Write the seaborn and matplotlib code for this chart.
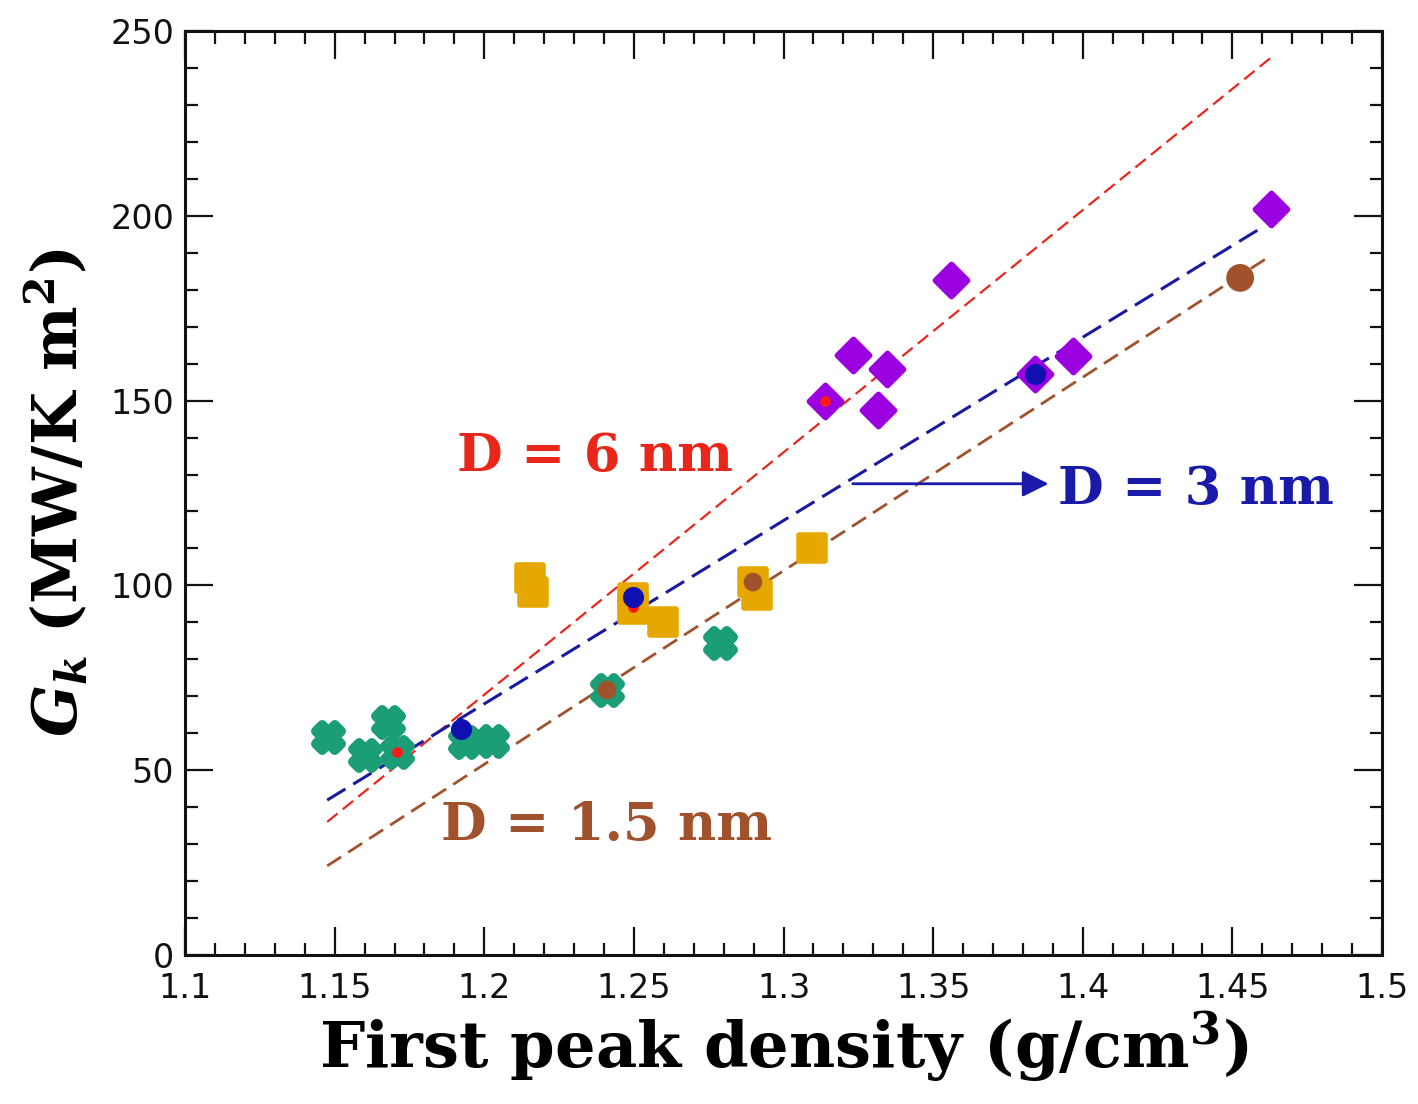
import seaborn as sns
import pandas as pd
import numpy as np
from matplotlib import pyplot as plt
from matplotlib.ticker import MultipleLocator

# data
green_x = [1.1478, 1.1602, 1.1678, 1.1708, 1.1935, 1.2026, 1.2410, 1.2788]
green_y = [59.0, 54.1, 63.0, 54.9, 57.5, 57.9, 71.7, 84.4]

orange_x = [1.2153, 1.2163, 1.2497, 1.2497, 1.2597, 1.2898, 1.2910, 1.3095]
orange_y = [102.0, 98.2, 96.5, 93.5, 90.1, 100.9, 97.4, 110.1]

purple_x = [1.3139, 1.3232, 1.3346, 1.3316, 1.3560, 1.3840, 1.3967, 1.4629]
purple_y = [149.9, 162.3, 158.5, 147.5, 182.6, 157.2, 162.1, 201.8]

# representative points for each diameter
d6_x = [1.1708, 1.2497, 1.3139]
d6_y = [54.9, 94.2, 149.9]
d3_x = [1.1922, 1.2497, 1.3840]
d3_y = [61.1, 96.9, 157.2]
d15_x = [1.2410, 1.2898, 1.4526]
d15_y = [71.7, 100.9, 183.2]

# fitted lines (end points)
fit6_x, fit6_y = [1.1475, 1.4632], [36.0, 243.0]
fit3_x, fit3_y = [1.1475, 1.4602], [41.9, 197.0]
fit15_x, fit15_y = [1.1475, 1.4626], [24.1, 189.1]

sns.set_theme(style="ticks")
plt.rcParams['font.family'] = ['DejaVu Sans']
plt.rcParams['mathtext.fontset'] = 'custom'
plt.rcParams['mathtext.it'] = 'DejaVu Serif:italic:bold'
plt.rcParams['mathtext.rm'] = 'DejaVu Serif:bold'
plt.rcParams['mathtext.bf'] = 'DejaVu Serif:bold'

fig = plt.figure(figsize=(14.18, 11.04), dpi=100)
ax = fig.add_axes([0.1305, 0.135, 0.8441, 0.8369])

RED = '#e8261a'
NAVY = '#1a1a9e'
BROWN = '#a0522d'

sns.lineplot(x=fit6_x, y=fit6_y, ax=ax, color=RED, lw=1.6, zorder=2)
sns.lineplot(x=fit3_x, y=fit3_y, ax=ax, color=NAVY, lw=2.2, zorder=2)
sns.lineplot(x=fit15_x, y=fit15_y, ax=ax, color=BROWN, lw=2.0, zorder=2)
for ln, dsh in zip(ax.lines, [(6, 3), (7, 3), (6, 3)]):
    ln.set_linestyle((0, dsh))

sns.scatterplot(x=green_x, y=green_y, ax=ax, marker='X', s=330, color='#1b9e77',
                edgecolor='#1b9e77', linewidth=7, zorder=3)
sns.scatterplot(x=orange_x, y=orange_y, ax=ax, marker='s', s=330, color='#e6a800',
                edgecolor='#e6a800', linewidth=4, zorder=3)
sns.scatterplot(x=purple_x, y=purple_y, ax=ax, marker='D', s=270, color='#9b00e0',
                edgecolor='#9b00e0', linewidth=4, zorder=3)
for coll in ax.collections:
    coll.set_joinstyle('round')

sns.scatterplot(x=d6_x, y=d6_y, ax=ax, marker='o', s=60, color='#ff1a1a', linewidth=0, zorder=4)
sns.scatterplot(x=d3_x, y=d3_y, ax=ax, marker='o', s=200, color='#1010b0',
                edgecolor='#1010b0', linewidth=1, zorder=4)
sns.scatterplot(x=d15_x, y=d15_y, ax=ax, marker='o', s=[180, 180, 400], color=BROWN,
                linewidth=0, zorder=4)

ax.set_xlim(1.1, 1.5)
ax.set_ylim(0, 250)
ax.xaxis.set_major_locator(MultipleLocator(0.05))
ax.xaxis.set_minor_locator(MultipleLocator(0.01))
ax.yaxis.set_major_locator(MultipleLocator(50))
ax.yaxis.set_minor_locator(MultipleLocator(10))
ax.set_xticks(np.arange(1.1, 1.501, 0.05))
ax.set_xticklabels(['1.1', '1.15', '1.2', '1.25', '1.3', '1.35', '1.4', '1.45', '1.5'])
ax.tick_params(which='both', direction='in', top=True, right=True, colors='#111111')
ax.tick_params(which='major', length=20, width=1.6, labelsize=24, pad=8)
ax.tick_params(axis='x', which='major', pad=12)
ax.tick_params(which='minor', length=9, width=1.6)
for sp in ax.spines.values():
    sp.set_linewidth(2.2)
    sp.set_color('#111111')

ax.set_xlabel('First peak density (g/cm$^3$)', fontsize=46, fontweight='bold',
              family='DejaVu Serif', labelpad=4, color='black')
ax.set_ylabel('$G_k$ (MW/K m$^2$)', fontsize=44, fontweight='bold',
              family='DejaVu Serif', labelpad=14, color='black')

ax.text(1.2370, 135, 'D = 6 nm', color=RED, fontsize=38, fontweight='bold',
        family='DejaVu Serif', ha='center', va='center')
ax.text(1.4378, 126, 'D = 3 nm', color='#1a1aa8', fontsize=38, fontweight='bold',
        family='DejaVu Serif', ha='center', va='center')
ax.text(1.2410, 35, 'D = 1.5 nm', color=BROWN, fontsize=38, fontweight='bold',
        family='DejaVu Serif', ha='center', va='center')
ax.annotate('', xy=(1.3895, 127.5), xytext=(1.3222, 127.5),
            arrowprops=dict(arrowstyle='-|>', color='#1a1aa8', lw=2, mutation_scale=40))

fig.savefig('out.png', dpi=100)
